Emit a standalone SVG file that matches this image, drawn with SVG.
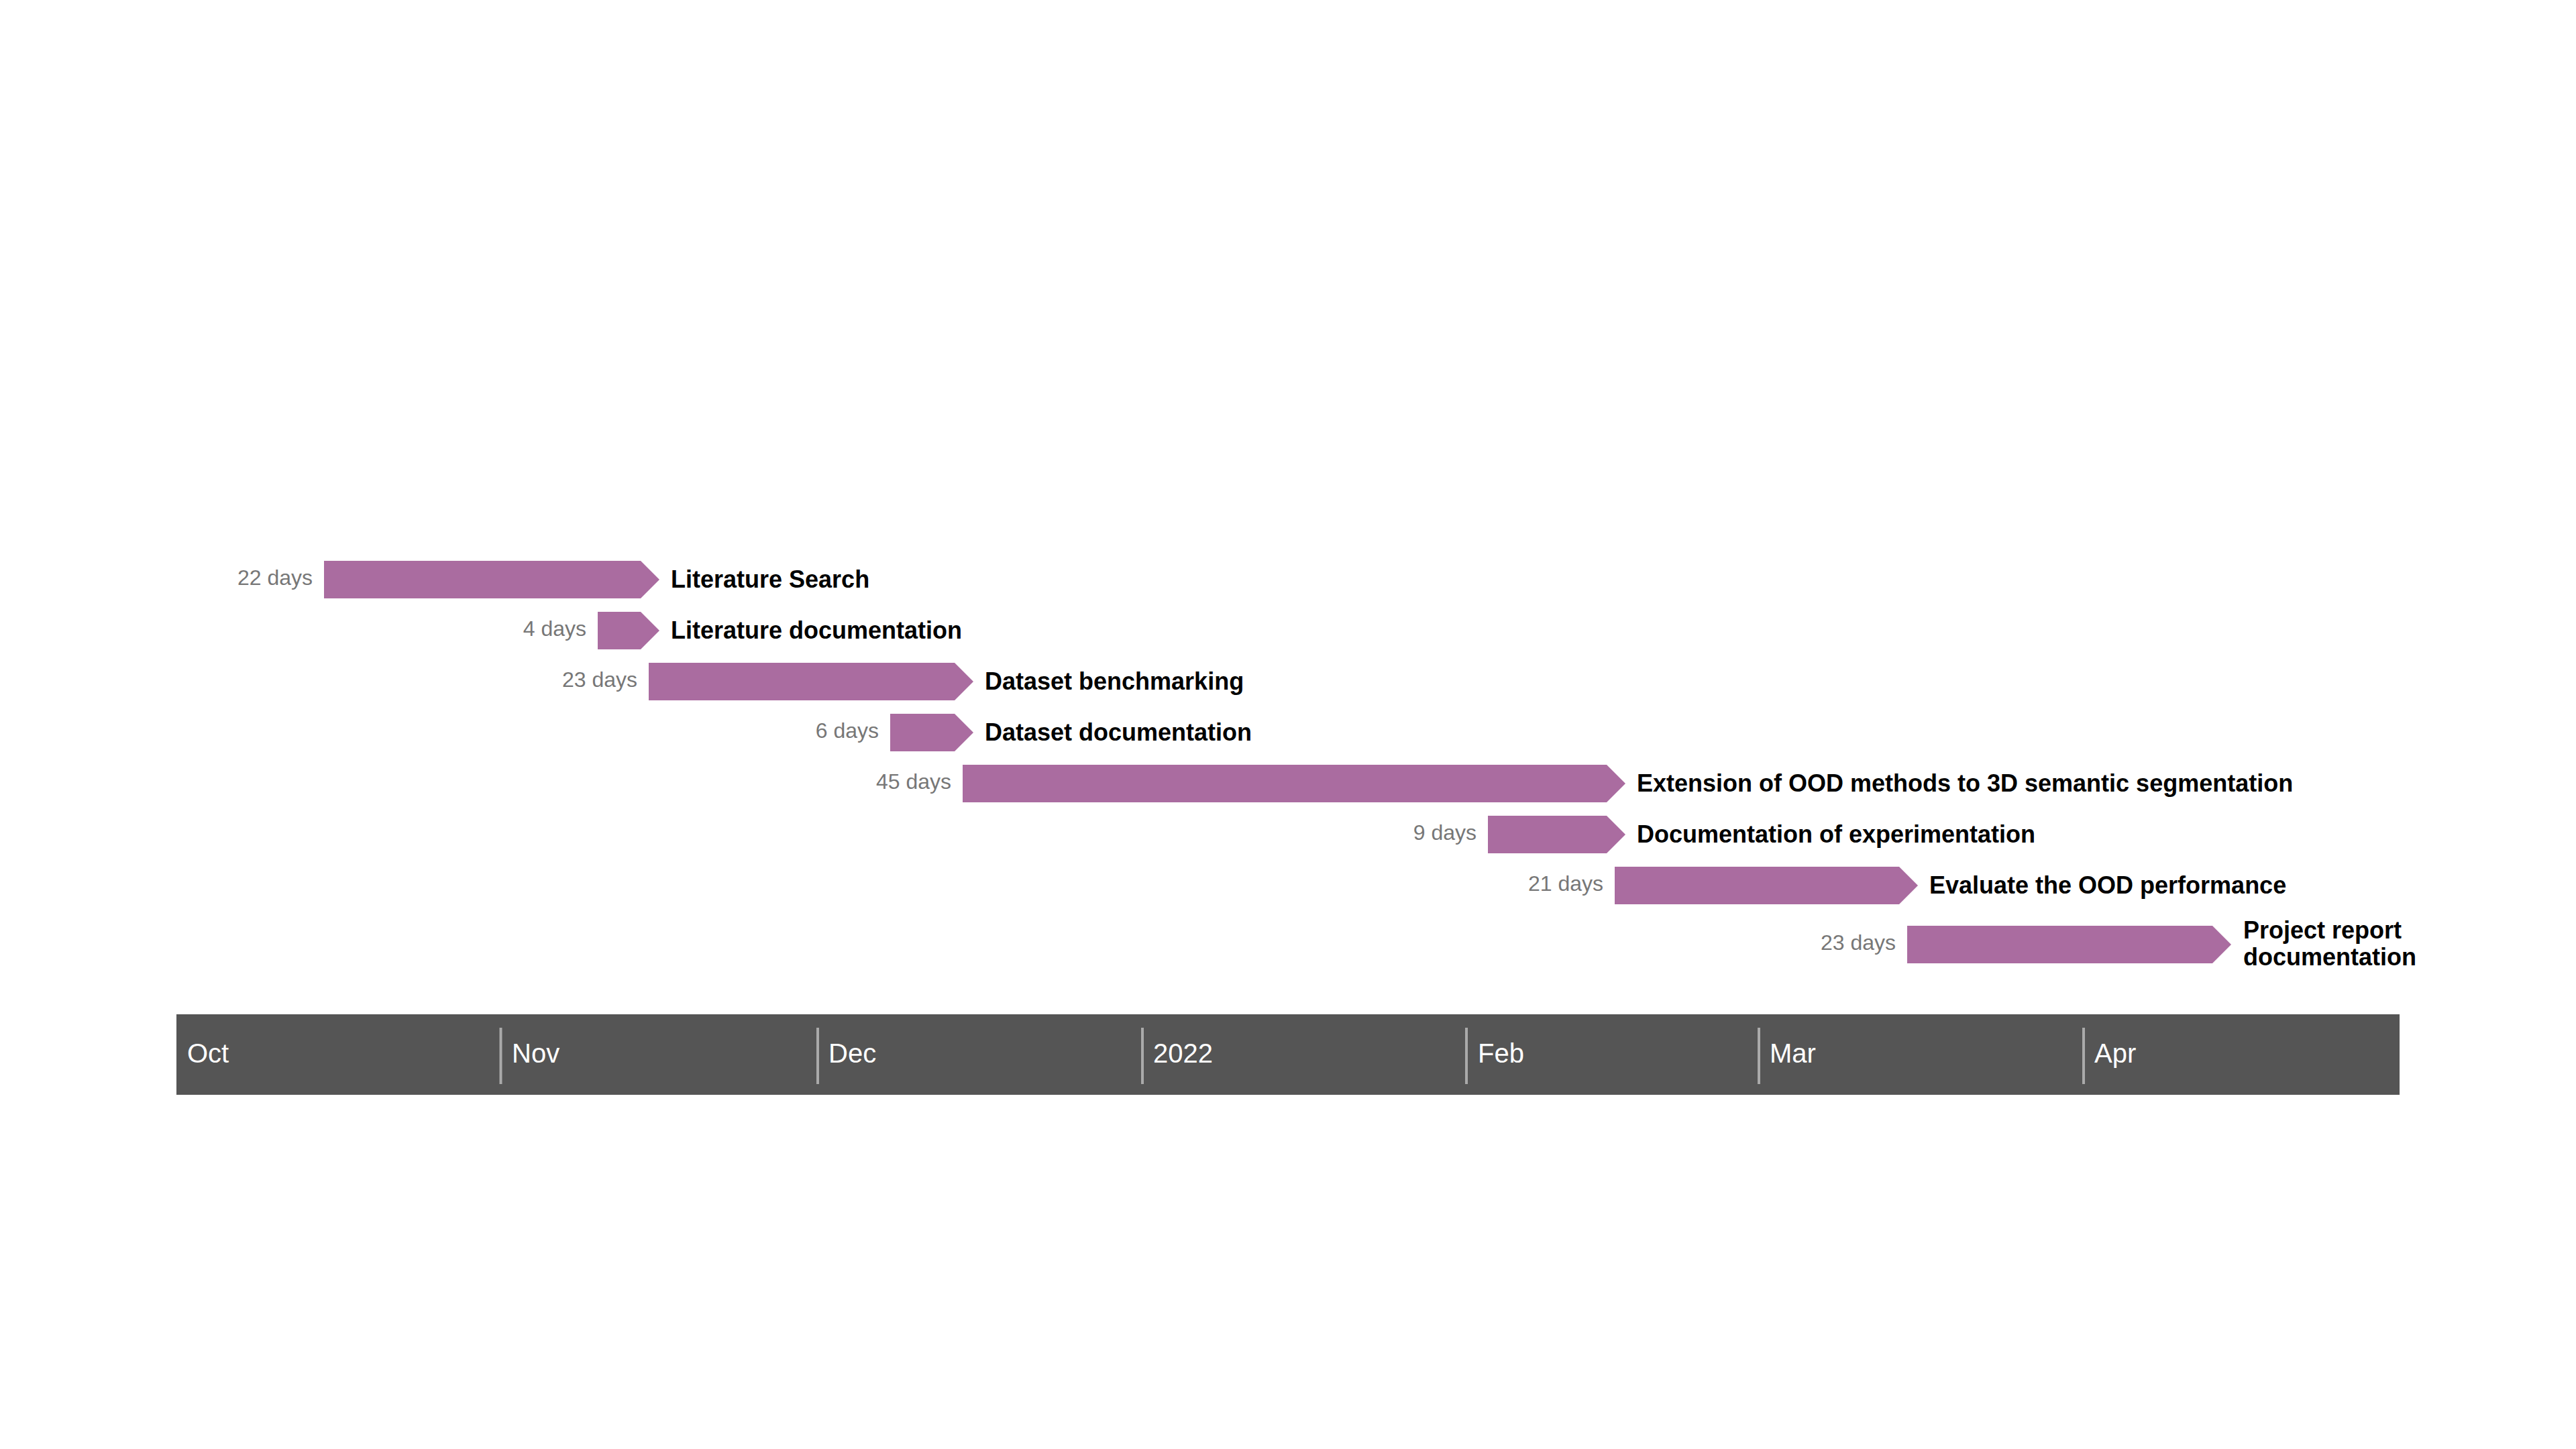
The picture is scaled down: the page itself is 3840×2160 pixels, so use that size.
<svg xmlns="http://www.w3.org/2000/svg" width="3840" height="2160" viewBox="0 0 3840 2160">
<style>
.bar{fill:#aa6ca0}
.days{font-family:"Liberation Sans",Arial,sans-serif;font-size:32px;fill:#777777;text-anchor:end}
.lbl{font-family:"Liberation Sans",Arial,sans-serif;font-size:36px;font-weight:bold;fill:#000000}
.mon{font-family:"Liberation Sans",Arial,sans-serif;font-size:40px;fill:#ffffff}
.div{stroke:#aaaaaa;stroke-width:4}
</style>
<rect x="0" y="0" width="3840" height="2160" fill="#ffffff"/>
<g id="timeline">
<rect x="263" y="1512" width="3314" height="120" fill="#555555"/>
<line class="div" x1="746.5" y1="1532" x2="746.5" y2="1616"/>
<line class="div" x1="1219" y1="1532" x2="1219" y2="1616"/>
<line class="div" x1="1703" y1="1532" x2="1703" y2="1616"/>
<line class="div" x1="2186" y1="1532" x2="2186" y2="1616"/>
<line class="div" x1="2622" y1="1532" x2="2622" y2="1616"/>
<line class="div" x1="3106" y1="1532" x2="3106" y2="1616"/>
<text class="mon" x="279" y="1584">Oct</text>
<text class="mon" x="763" y="1584">Nov</text>
<text class="mon" x="1235" y="1584">Dec</text>
<text class="mon" x="1719" y="1584">2022</text>
<text class="mon" x="2203" y="1584">Feb</text>
<text class="mon" x="2638" y="1584">Mar</text>
<text class="mon" x="3122" y="1584">Apr</text>
</g>
<g id="task1">
<polygon class="bar" points="483,836 955,836 983,864 955,892 483,892"/>
<text class="days" x="466" y="872">22 days</text>
<text class="lbl" x="1000" y="876">Literature Search</text>
</g>
<g id="task2">
<polygon class="bar" points="891,912 955,912 983,940 955,968 891,968"/>
<text class="days" x="874" y="948">4 days</text>
<text class="lbl" x="1000" y="952">Literature documentation</text>
</g>
<g id="task3">
<polygon class="bar" points="967,988 1423,988 1451,1016 1423,1044 967,1044"/>
<text class="days" x="950" y="1024">23 days</text>
<text class="lbl" x="1468" y="1028">Dataset benchmarking</text>
</g>
<g id="task4">
<polygon class="bar" points="1327,1064 1423,1064 1451,1092 1423,1120 1327,1120"/>
<text class="days" x="1310" y="1100">6 days</text>
<text class="lbl" x="1468" y="1104">Dataset documentation</text>
</g>
<g id="task5">
<polygon class="bar" points="1435,1140 2395,1140 2423,1168 2395,1196 1435,1196"/>
<text class="days" x="1418" y="1176">45 days</text>
<text class="lbl" x="2440" y="1180">Extension of OOD methods to 3D semantic segmentation</text>
</g>
<g id="task6">
<polygon class="bar" points="2218,1216 2395,1216 2423,1244 2395,1272 2218,1272"/>
<text class="days" x="2201" y="1252">9 days</text>
<text class="lbl" x="2440" y="1256">Documentation of experimentation</text>
</g>
<g id="task7">
<polygon class="bar" points="2407,1292 2831,1292 2859,1320 2831,1348 2407,1348"/>
<text class="days" x="2390" y="1328">21 days</text>
<text class="lbl" x="2876" y="1332">Evaluate the OOD performance</text>
</g>
<g id="task8">
<polygon class="bar" points="2843,1380 3298,1380 3326,1408 3298,1436 2843,1436"/>
<text class="days" x="2826" y="1416">23 days</text>
<text class="lbl" x="3344" y="1399">Project report</text>
<text class="lbl" x="3344" y="1439">documentation</text>
</g>
<g id="connectors"></g>
</svg>
